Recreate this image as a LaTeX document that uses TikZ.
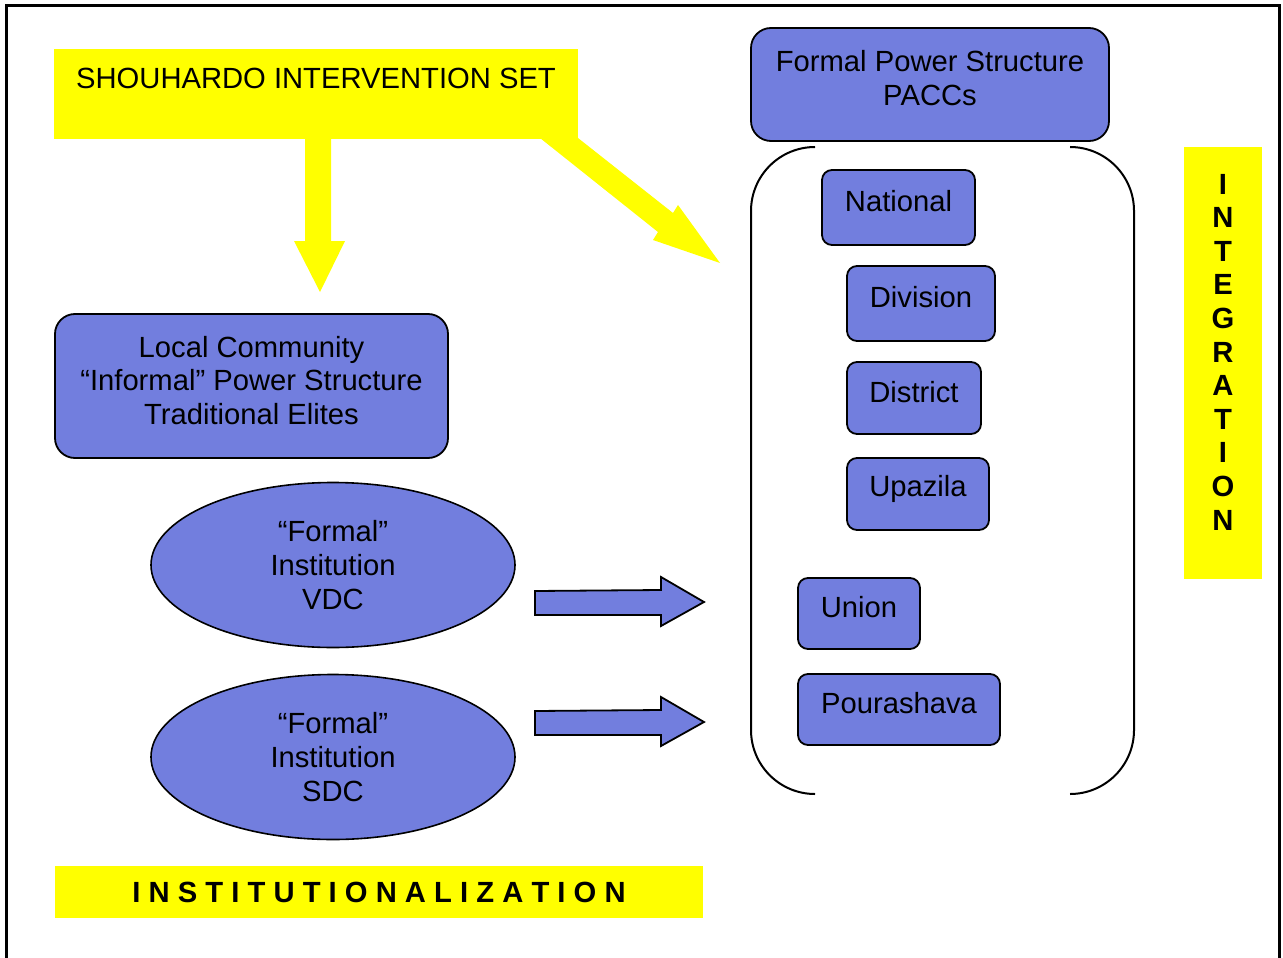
\documentclass[tikz,border=0pt]{standalone}
\usepackage{fontspec}
\setmainfont{Liberation Sans}
\usetikzlibrary{shapes.geometric}
\definecolor{pblue}{RGB}{114,126,222}
\definecolor{pyellow}{RGB}{255,255,0}
\begin{document}
\begin{tikzpicture}[x=0.5pt,y=-0.5pt,
  every node/.style={font=\fontsize{14.6}{16.8}\selectfont},
  bluebox/.style={draw=black, line width=0.9pt, fill=pblue, rounded corners=7pt, inner sep=0pt},
  smallbox/.style={bluebox, rounded corners=5pt},
  ybox/.style={fill=pyellow, inner sep=0pt},
  lbl/.style={align=center, inner sep=0pt, font=\fontsize{14.6}{16.8}\selectfont},
  oval/.style={ellipse, draw=black, line width=0.8pt, fill=pblue, inner sep=0pt, align=center},
  yarrow/.style={fill=pyellow},
  barrow/.style={draw=black, line width=0.9pt, fill=pblue, line join=miter},
  bracket/.style={draw=black, line width=1pt}
]
\useasboundingbox (0,0) rectangle (1283,957);
\fill[white] (0,0) rectangle (1283,957);
% outer frame
\draw[line width=1.5pt] (6,975) -- (6,6) -- (1279,6) -- (1279,975);

% yellow intervention box
\node[ybox, minimum width=262pt, minimum height=45pt,
  label={[lbl, yshift=8pt]center:SHOUHARDO INTERVENTION SET}] (shs) at (316,94) {};

% yellow arrows
\fill[yarrow] (305,138) -- (305,241) -- (294,241) -- (320,292) -- (345,241) -- (331,241) -- (331,138) -- cycle;
\fill[yarrow] (540,138) -- (658,232) -- (653,240) -- (720,263) -- (678,205) -- (673,213) -- (578,138) -- cycle;

% formal power structure
\node[bluebox, rounded corners=10pt, minimum width=179pt, minimum height=56.5pt,
  label={[lbl, yshift=3.25pt]center:Formal Power Structure\\PACCs}] (fps) at (930,84.5) {};

% bracket
\draw[bracket] (815,147) arc[start angle=-90, end angle=-180, radius=64] -- (751,730) arc[start angle=180, end angle=90, radius=64];
\draw[bracket] (1070,147) arc[start angle=-90, end angle=0, radius=64] -- (1134,730) arc[start angle=0, end angle=90, radius=64];

% levels
\node[smallbox, minimum width=76.5pt, minimum height=37.5pt,
  label={[lbl, yshift=3.25pt]center:National}] (nat) at (898.5,207.5) {};
\node[smallbox, minimum width=74pt, minimum height=37.5pt,
  label={[lbl, yshift=3.25pt]center:Division}] (div) at (921,303.5) {};
\node[smallbox, minimum width=67pt, minimum height=36pt,
  label={[lbl, yshift=3pt]center:District}] (dis) at (914,398) {};
\node[smallbox, minimum width=71pt, minimum height=36pt,
  label={[lbl, yshift=2.5pt]center:Upazila}] (upa) at (918,494) {};
\node[smallbox, minimum width=61pt, minimum height=35.5pt,
  label={[lbl, yshift=3pt]center:Union}] (uni) at (859,613.5) {};
\node[smallbox, minimum width=101pt, minimum height=35.5pt,
  label={[lbl, yshift=3pt]center:Pourashava}] (pou) at (899,709.5) {};

% local community
\node[bluebox, rounded corners=10pt, minimum width=196.5pt, minimum height=72pt,
  label={[lbl, yshift=2.75pt]center:Local Community\\“Informal” Power Structure\\Traditional Elites}] (loc) at (251.5,386) {};

% ellipses
\node[oval, minimum width=182pt, minimum height=82.5pt] (vdc) at (333,565) {“Formal”\\Institution\\VDC};
\node[oval, minimum width=182pt, minimum height=82.5pt] (sdc) at (333,757) {“Formal”\\Institution\\SDC};

% blue arrows
\draw[barrow] (535,591) -- (661,590) -- (661,577) -- (704,602) -- (661,626) -- (661,615) -- (535,615) -- cycle;
\draw[barrow] (535,711) -- (661,710) -- (661,697) -- (704,722) -- (661,746) -- (661,735) -- (535,735) -- cycle;

% institutionalization
\node[ybox, minimum width=324pt, minimum height=26pt,
  font=\fontsize{14.6}{16.8}\selectfont\bfseries] (ins) at (379,892) {I N S T I T U T I O N A L I Z A T I O N};

% integration
\node[ybox, minimum width=39pt, minimum height=216pt,
  label={[lbl, yshift=5.5pt, font=\fontsize{14.6}{16.8}\selectfont\bfseries]center:I\\N\\T\\E\\G\\R\\A\\T\\I\\O\\N}] (int) at (1223,363) {};
\end{tikzpicture}
\end{document}
